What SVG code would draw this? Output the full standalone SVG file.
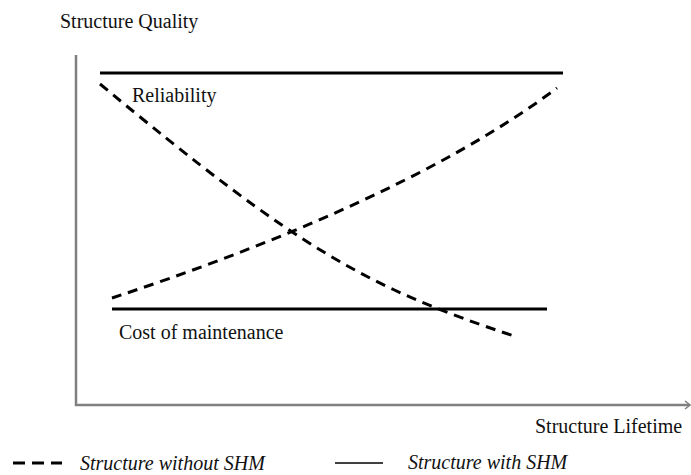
<svg xmlns="http://www.w3.org/2000/svg" width="691" height="475" viewBox="0 0 691 475">
<style>
.t{font-family:"Liberation Serif","Times New Roman",serif;font-size:20px;fill:#111}
.i{font-style:italic}
.axis{stroke:#808080;stroke-width:2.5;fill:none}
.solid{stroke:#000;stroke-width:3;fill:none}
.dash{stroke:#000;stroke-width:3;fill:none;stroke-dasharray:10 7}
</style>
<rect width="691" height="475" fill="#fff"/>
<g id="axes">
<path class="axis" d="M76,55 V405 H689"/>
<path d="M685,401 L690,405 L685,409" stroke="#808080" stroke-width="1.5" fill="none"/>
<text class="t" x="60" y="28">Structure Quality</text>
<text class="t" x="535" y="433">Structure Lifetime</text>
</g>
<g id="connectors">
<line id="reliability-shm" class="solid" x1="100" y1="73" x2="563" y2="73"/>
<line id="cost-shm" class="solid" x1="112" y1="309" x2="547" y2="309"/>
<path id="reliability-noshm" class="dash" d="M100,84 C300,250 367,287.5 517,337"/>
<path id="cost-noshm" class="dash" d="M112,298 C262,248.5 437,178 557,88"/>
</g>
<g id="labels">
<text class="t" x="132" y="102">Reliability</text>
<text class="t" x="119" y="339">Cost of maintenance</text>
</g>
<g id="legend">
<line class="dash" x1="13" y1="463" x2="62" y2="463" style="stroke-dasharray:12 7"/>
<text class="t i" x="80" y="470">Structure without SHM</text>
<line x1="335" y1="463" x2="383" y2="463" stroke="#000" stroke-width="1.5"/>
<text class="t i" x="408" y="469">Structure with SHM</text>
</g>
</svg>
